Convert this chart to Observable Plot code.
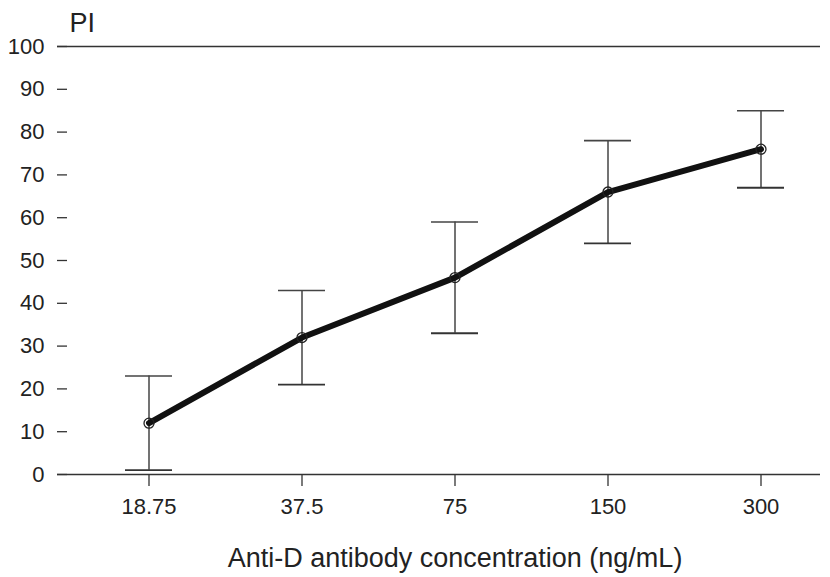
<!DOCTYPE html>
<html>
<head>
<meta charset="utf-8">
<script src="https://cdn.jsdelivr.net/npm/d3@7"></script>
<script src="https://cdn.jsdelivr.net/npm/@observablehq/plot@0.6"></script>
<style>
  body { margin: 0; background: #fff; }
  #chart svg { font-family: "Liberation Sans", Arial, Helvetica, sans-serif; }
</style>
</head>
<body>
<div id="chart"></div>
<script>
const concentrations = ["18.75", "37.5", "75", "150", "300"];
const meanPI = [12, 32, 46, 66, 76];
const lowPI = [1, 21, 33, 54, 67];
const highPI = [23, 43, 59, 78, 85];
const yTicks = [0, 10, 20, 30, 40, 50, 60, 70, 80, 90, 100];
const yLabel = "PI";
const xLabel = "Anti-D antibody concentration (ng/mL)";

const data = concentrations.map((c, i) => ({c, mean: meanPI[i], low: lowPI[i], high: highPI[i]}));

const plot = Plot.plot({
  width: 830,
  height: 577,
  marginLeft: 67,
  marginRight: 10,
  marginTop: 46,
  marginBottom: 103,
  style: {fontSize: "22px", color: "#222", background: "#fff"},
  x: {type: "band", domain: concentrations, paddingInner: 0.69, paddingOuter: 0, insetLeft: 56, insetRight: 34, label: null},
  y: {domain: [0, 100], label: null},
  marks: [
    Plot.ruleY([0, 100], {stroke: "#333", strokeWidth: 1.3, insetLeft: -10}),
    Plot.axisY({ticks: yTicks, tickSize: 10, tickPadding: 13, stroke: "#333", strokeWidth: 1.3, label: null, fill: "#222"}),
    Plot.axisX({tickSize: 12, tickPadding: 12, stroke: "#333", strokeWidth: 1.3, label: null, fill: "#222"}),
    Plot.ruleX(data, {x: "c", y1: "low", y2: "high", stroke: "#444", strokeWidth: 1.5}),
    Plot.tickY(data, {x: "c", y: "low", stroke: "#333", strokeWidth: 1.8}),
    Plot.tickY(data, {x: "c", y: "high", stroke: "#444", strokeWidth: 1.6}),
    Plot.line(data, {x: "c", y: "mean", stroke: "#111", strokeWidth: 6, strokeLinejoin: "round"}),
    Plot.dot(data, {x: "c", y: "mean", r: 5, stroke: "#222", fill: "none", strokeWidth: 1.3}),
    Plot.text([yLabel], {frameAnchor: "top-left", text: d => d, textAnchor: "start", lineAnchor: "middle", dx: 2, dy: -23, fontSize: 27, fill: "#222"}),
    Plot.text([xLabel], {frameAnchor: "bottom", text: d => d, lineAnchor: "middle", dy: 84, dx: 11, fontSize: 27, fill: "#222"})
  ]
});
document.getElementById("chart").appendChild(plot);
</script>
</body>
</html>
